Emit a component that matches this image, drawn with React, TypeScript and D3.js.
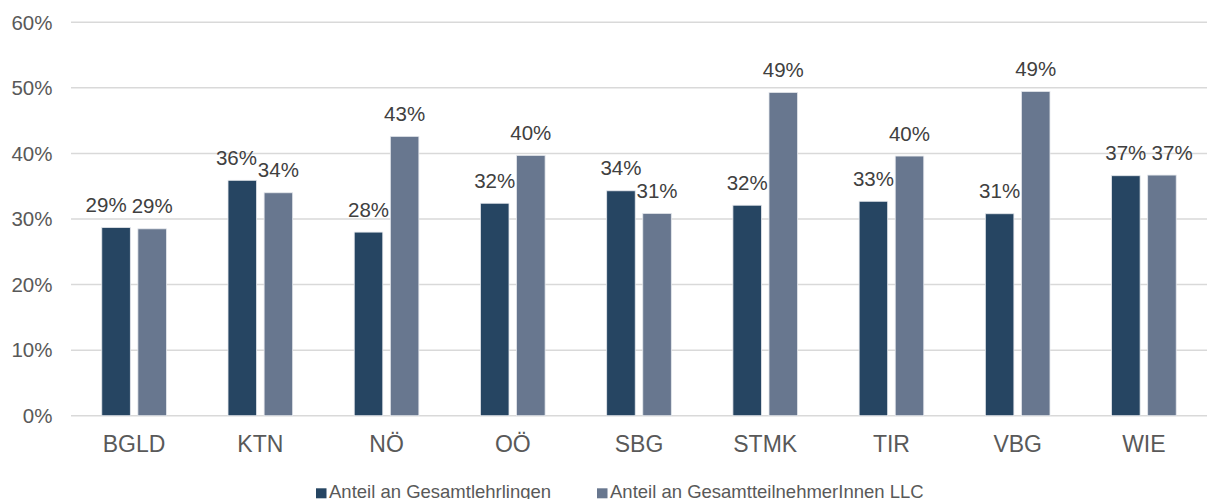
import React from "react";
import * as d3 from "d3";

// Regions (Bundesländer)
const categories = ["BGLD", "KTN", "NÖ", "OÖ", "SBG", "STMK", "TIR", "VBG", "WIE"];

// Share of all apprentices, per region (%)
const lehrlinge = [28.7, 35.9, 28.0, 32.4, 34.3, 32.1, 32.7, 30.8, 36.6];
// Share of all LLC participants, per region (%)
const teilnehmer = [28.5, 34.0, 42.6, 39.7, 30.85, 49.3, 39.6, 49.45, 36.7];

const seriesNames = ["Anteil an Gesamtlehrlingen", "Anteil an GesamtteilnehmerInnen LLC"];
const yTicks = [0, 10, 20, 30, 40, 50, 60];

const W = 1207;
const H = 499;
const FONT = "'Liberation Sans', Arial, Helvetica, sans-serif";
const COLORS = ["#264562", "#68778f"];

const plot = { left: 71, right: 1207, top: 22.3, bottom: 415.7 };
const LABEL_SIZE = 20.5;
const LABEL_H = 15;

// rough Arial advance widths for the label glyphs
const glyphW = (s: string, size: number) =>
  s.split("").reduce((a, c) => a + (c === "%" ? 0.889 : 0.556), 0) * size;

export default function App() {
  const x = d3.scaleBand<string>().domain(categories).range([plot.left, plot.right]).padding(0);
  const y = d3.scaleLinear().domain([0, 60]).range([plot.bottom, plot.top]);

  const band = x.bandwidth();
  const barW = band * 0.226;
  const gap = band * 0.06;

  const series = [lehrlinge, teilnehmer];

  // bar geometry + label placement (labels nudged apart when they collide)
  const groups = categories.map((c, i) => {
    const center = (x(c) as number) + band / 2;
    const bars = series.map((vals, s) => {
      const v = vals[i];
      const bx = s === 0 ? center - gap / 2 - barW : center + gap / 2;
      const top = y(v);
      const text = `${Math.round(v)}%`;
      return { s, v, bx, top, cx: bx + barW / 2, text, lx: bx + barW / 2, ly: top - 15.5, w: glyphW(text, LABEL_SIZE) };
    });
    const [a, b] = bars;
    const vOverlap = Math.max(0, LABEL_H - Math.abs(a.ly - b.ly));
    if (vOverlap > 0) {
      const pad = 5.5 * (vOverlap / LABEL_H);
      const need = (a.w + b.w) / 2 + pad - (b.cx - a.cx);
      if (need > 0) {
        if (a.v > b.v) a.lx -= need;
        else b.lx += need;
      }
    }
    return { c, center, bars };
  });

  const legendItems = [
    { x: 316, label: seriesNames[0], color: COLORS[0] },
    { x: 597, label: seriesNames[1], color: COLORS[1] },
  ];

  return (
    <svg
      width={W}
      height={H}
      style={{ position: "absolute", left: 0, top: 0, background: "#fff" }}
      fontFamily={FONT}
    >
      {/* gridlines */}
      {yTicks.map((t) => (
        <line key={t} x1={plot.left} x2={plot.right} y1={y(t)} y2={y(t)} stroke="#d9d9d9" strokeWidth={1.5} />
      ))}
      {/* y tick labels */}
      {yTicks.map((t) => (
        <text key={t} x={52.5} y={y(t) + 7.2} textAnchor="end" fontSize={20.5} fill="#595959">
          {`${t}%`}
        </text>
      ))}
      {/* bars */}
      {groups.map((g) =>
        g.bars.map((b) => (
          <rect
            key={`${g.c}-${b.s}`}
            x={b.bx}
            y={b.top}
            width={barW}
            height={y(0) - b.top}
            fill={COLORS[b.s]}
            stroke="#e4e7ec"
            strokeWidth={0.8}
          />
        ))
      )}
      {/* data labels */}
      {groups.map((g) =>
        g.bars.map((b) => (
          <text key={`l-${g.c}-${b.s}`} x={b.lx} y={b.ly} textAnchor="middle" fontSize={LABEL_SIZE} fill="#404040">
            {b.text}
          </text>
        ))
      )}
      {/* category labels */}
      {groups.map((g) => (
        <text key={`c-${g.c}`} x={g.center} y={452.3} textAnchor="middle" fontSize={23} fill="#595959">
          {g.c}
        </text>
      ))}
      {/* legend */}
      {legendItems.map((l) => (
        <g key={l.label}>
          <rect x={l.x} y={488.3} width={10.5} height={10} fill={l.color} />
          <text x={l.x + 13} y={498} fontSize={18.5} fill="#595959">
            {l.label}
          </text>
        </g>
      ))}
    </svg>
  );
}
